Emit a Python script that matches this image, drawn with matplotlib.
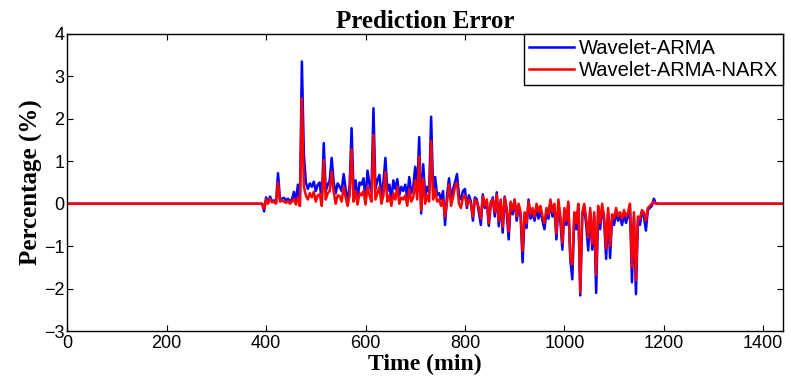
import numpy as np
import matplotlib
matplotlib.use("Agg")
import matplotlib.pyplot as plt

# time grid of the active window (min), values every 4 min
t_active = np.arange(396, 1188, 4)

# Wavelet-ARMA prediction error (%)
err_arma = [
    -0.18, 0.15, 0.02, 0.17, 0.05, 0.08, 0.02, 0.72, 0.10, 0.12,
    0.14, 0.08, 0.12, 0.06, 0.10, 0.28, 0.05, 0.45, -0.05, 3.35,
    1.17, 0.50, 0.35, 0.48, 0.40, 0.52, 0.30, 0.45, 0.50, 0.02,
    1.43, 0.30, 0.45, 0.55, 1.08, 0.50, 0.25, 0.48, 0.40, 0.30,
    0.70, 0.35, 0.05, 0.40, 1.78, 0.30, 0.55, 0.10, 0.50, 0.45,
    0.60, 0.10, 0.78, 0.45, 0.30, 2.25, 0.35, 0.55, 0.68, 0.20,
    0.50, 1.08, 0.30, 0.45, 0.10, 0.55, 0.35, 0.58, 0.20, 0.40,
    0.30, 0.45, 0.15, 0.63, 0.25, 0.40, 0.87, 0.30, 1.57, -0.23,
    0.93, 0.20, 0.40, 0.25, 2.05, 0.30, 0.63, 0.20, 0.25, 0.10,
    0.30, -0.50, 0.20, 0.60, 0.10, 0.35, 0.50, 0.70, 0.20, 0.10,
    0.30, 0.35, -0.10, 0.20, 0.05, -0.40, 0.15, 0.10, -0.20, -0.50,
    0.22, -0.10, 0.05, -0.52, 0.00, 0.15, -0.30, 0.27, -0.53, 0.05,
    -0.68, 0.17, -0.20, -0.84, 0.00, -0.25, 0.10, -0.40, -0.10, -0.30,
    -1.38, -0.30, -0.57, 0.10, -0.35, -0.20, -0.40, -0.10, -0.35, -0.15,
    -0.40, -0.60, -0.20, -0.35, 0.05, -0.30, -0.10, -0.84, 0.00, -0.40,
    -1.08, -0.20, -0.50, 0.00, -1.31, -1.78, -0.30, -0.60, -0.10, -2.16,
    -0.30, -0.10, -0.50, -1.10, -0.20, -1.08, -0.30, -2.10, -0.15, -0.60,
    -0.10, -0.40, -1.30, -0.20, -1.28, -0.35, -0.50, -0.20, -0.40, -0.30,
    -0.50, -0.25, -0.45, -0.30, -0.10, -1.85, -0.30, -2.13, -0.40, -0.50,
    -0.20, -0.30, -0.63, -0.15, -0.10, -0.05, 0.12, 0.00,
]

# Wavelet-ARMA-NARX prediction error (%)
err_narx = [
    -0.12, 0.10, 0.00, 0.12, 0.03, 0.05, 0.00, 0.50, 0.05, 0.08,
    0.05, 0.02, 0.07, 0.00, 0.05, 0.12, -0.02, 0.15, -0.05, 2.48,
    0.40, 0.20, 0.10, 0.25, 0.15, 0.28, 0.05, 0.20, 0.22, -0.05,
    1.03, 0.10, 0.25, 0.30, 0.75, 0.28, 0.00, 0.20, 0.18, 0.05,
    0.40, 0.15, -0.05, 0.20, 1.29, 0.05, 0.30, -0.02, 0.25, 0.20,
    0.30, -0.02, 0.40, 0.20, 0.05, 1.62, 0.10, 0.25, 0.40, 0.00,
    0.20, 0.75, 0.05, 0.20, -0.05, 0.25, 0.10, 0.40, 0.00, 0.15,
    0.10, 0.20, -0.05, 0.35, 0.05, 0.15, 0.55, 0.10, 1.12, -0.15,
    0.60, 0.00, 0.20, 0.05, 1.48, 0.10, 0.35, 0.05, 0.10, -0.05,
    0.10, -0.30, 0.05, 0.45, -0.05, 0.15, 0.40, 0.50, 0.00, -0.10,
    0.15, 0.20, -0.05, 0.10, 0.00, -0.30, 0.10, 0.05, -0.10, -0.35,
    0.18, -0.05, 0.10, -0.45, 0.05, 0.10, -0.20, 0.22, -0.40, 0.10,
    -0.55, 0.15, -0.10, -0.65, 0.05, -0.15, 0.10, -0.30, 0.00, -0.20,
    -1.12, -0.20, -0.45, 0.05, -0.25, -0.10, -0.30, 0.00, -0.20, -0.05,
    -0.30, -0.45, -0.10, -0.25, 0.10, -0.20, 0.00, -0.70, 0.10, -0.30,
    -0.92, -0.10, -0.40, 0.05, -1.27, -1.43, -0.20, -0.45, 0.00, -2.09,
    -0.20, 0.00, -0.35, -0.80, -0.10, -0.95, -0.20, -1.67, -0.05, -0.45,
    0.00, -0.30, -1.05, -0.10, -1.00, -0.25, -0.35, -0.10, -0.30, -0.20,
    -0.35, -0.15, -0.30, -0.20, 0.00, -1.50, -0.20, -1.80, -0.30, -0.35,
    -0.15, -0.20, -0.40, -0.10, -0.05, 0.00, 0.05, 0.00,
]

# error is zero outside the active window
t_all = np.concatenate([[0, 392], t_active, [1188, 1440]])
arma_all = np.concatenate([[0, 0], err_arma, [0, 0]])
narx_all = np.concatenate([[0, 0], err_narx, [0, 0]])

x_ticks = [0, 200, 400, 600, 800, 1000, 1200, 1400]
y_ticks = [-3, -2, -1, 0, 1, 2, 3, 4]

fig = plt.figure(figsize=(7.91, 3.9), dpi=100)
ax = fig.add_axes([0.085, 0.151, 0.905, 0.762])

ax.plot(t_all, arma_all, color='#0000ff', lw=1.8, label='Wavelet-ARMA')
ax.plot(t_all, narx_all, color='#ff0000', lw=1.8, label='Wavelet-ARMA-NARX')

ax.set_xlim(0, 1440)
ax.set_ylim(-3, 4)
ax.set_xticks(x_ticks)
ax.set_yticks(y_ticks)
ax.tick_params(direction='in', top=True, right=True, length=4, width=0.8,
               labelsize=13)
ax.tick_params(axis='x', pad=3)
ax.tick_params(axis='y', pad=2)
for lab in ax.get_xticklabels() + ax.get_yticklabels():
    lab.set_family('Liberation Sans')
for sp in ax.spines.values():
    sp.set_linewidth(1.0)

ax.set_title('Prediction Error', fontsize=18, fontweight='bold',
             family='Liberation Serif', pad=4)
ax.set_xlabel('Time (min)', fontsize=17, fontweight='bold',
              family='Liberation Serif', labelpad=1)
ax.set_ylabel('Percentage (%)', fontsize=18, fontweight='bold',
              family='Liberation Serif', labelpad=1)

leg = ax.legend(loc='upper right', borderaxespad=0, fancybox=False,
                framealpha=1, edgecolor='black', handlelength=2.2,
                handletextpad=0.25, borderpad=0.25, labelspacing=0.15,
                prop={'family': 'Liberation Sans', 'size': 14.5})
leg.get_frame().set_linewidth(1.0)

fig.savefig('out.png', dpi=100)
